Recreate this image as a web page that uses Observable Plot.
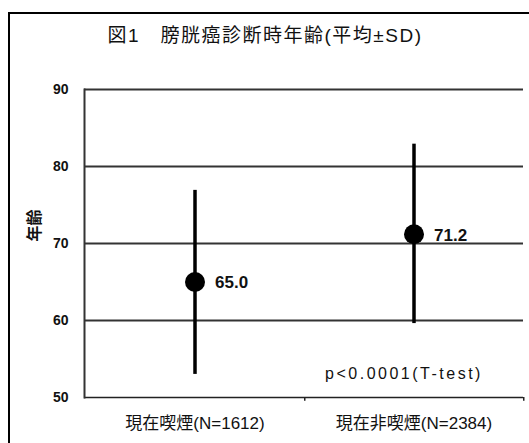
<!DOCTYPE html>
<html>
<head>
<meta charset="utf-8">
<script src="https://cdn.jsdelivr.net/npm/d3@7"></script>
<script src="https://cdn.jsdelivr.net/npm/@observablehq/plot@0.6"></script>
<style>
  html, body { margin: 0; padding: 0; background: #fff; }
  body { position: relative; width: 529px; height: 443px; overflow: hidden;
         font-family: "Liberation Sans", Arial, "Noto Sans CJK JP", sans-serif; }
  #border { position: absolute; left: 8px; top: 12px; width: 540px; height: 450px;
            border-top: 2px solid #000; border-left: 2px solid #000; }
  #title { position: absolute; left: 0; top: 23px; width: 530px; text-align: center;
           font-size: 19px; line-height: 26px; letter-spacing: 1.5px; color: #111; }
  #chart { position: absolute; left: 10px; top: 58px; }
</style>
</head>
<body>
<div id="border"></div>
<div id="title"></div>
<div id="chart"></div>
<script>
const title = "図1　膀胱癌診断時年齢(平均±SD)";
const groups = ["現在喫煙(N=1612)", "現在非喫煙(N=2384)"];
const means = [65.0, 71.2];
const upper = [76.9, 82.9];
const lower = [53.0, 59.6];
const yTicks = [50, 60, 70, 80, 90];
const gridValues = [60, 70, 80, 90];
const yLabel = "年齢";
const pText = "p<0.0001(T-test)";
const pPos = {group: groups[1], y: 53.1};

document.getElementById("title").textContent = title;

const data = groups.map((g, i) => ({group: g, mean: means[i], hi: upper[i], lo: lower[i]}));

const W = 519, H = 385, mL = 74, mR = 6, mT = 31, mB = 46;
const bandHalf = (W - mL - mR) / groups.length / 2;

const chart = Plot.plot({
  width: W, height: H,
  marginLeft: mL, marginRight: mR, marginTop: mT, marginBottom: mB,
  style: {fontFamily: '"Liberation Sans", Arial, "Noto Sans CJK JP", sans-serif', color: "#111", background: "#fff"},
  x: {type: "band", domain: groups, padding: 0, axis: null},
  y: {domain: [50, 90], axis: null},
  marks: [
    Plot.ruleY(gridValues, {stroke: "#333", strokeWidth: 2}),
    Plot.ruleY([50], {stroke: "#222", strokeWidth: 1.5}),
    Plot.frame({anchor: "left", stroke: "#333", strokeWidth: 2}),
    Plot.ruleX(groups, {x: d => d, dx: bandHalf, y1: 50, y2: 49.5, stroke: "#222", strokeWidth: 1.5}),
    Plot.axisY({ticks: yTicks, tickSize: 0, tickPadding: 16, tickFormat: d => String(d),
                fontSize: 14, fontWeight: "bold", label: null}),
    Plot.axisX({tickSize: 0, tickPadding: 19, fontSize: 17, label: null}),
    Plot.text([yLabel], {frameAnchor: "left", text: d => d, rotate: -90, dx: -50, dy: -2,
                fontSize: 16, fontWeight: "bold", fill: "#111"}),
    Plot.ruleX(data, {x: "group", y1: "lo", y2: "hi", stroke: "#000", strokeWidth: 3.5}),
    Plot.dot(data, {x: "group", y: "mean", r: 10, fill: "#000", stroke: null}),
    Plot.text(data, {x: "group", y: "mean", text: d => d.mean.toFixed(1), dx: 20, dy: 1,
                     textAnchor: "start", fontSize: 17, fontWeight: "bold", fill: "#111"}),
    Plot.text([pPos], {x: "group", y: "y", text: () => pText, dx: -10,
                       fontSize: 16, fill: "#111"})
  ]
});
chart.querySelectorAll("text").forEach(t => {
  if (t.textContent === pText) t.setAttribute("letter-spacing", "2.5");
});
document.getElementById("chart").append(chart);
</script>
</body>
</html>
